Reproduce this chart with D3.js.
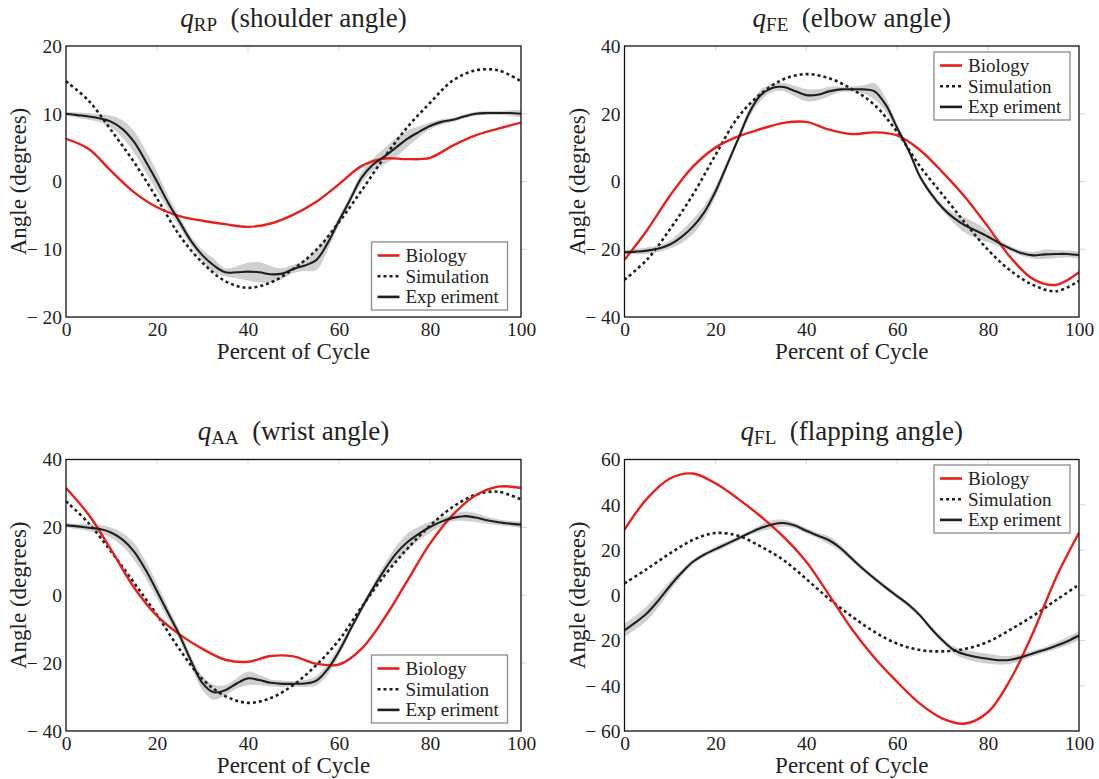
<!DOCTYPE html>
<html>
<head>
<meta charset="utf-8">
<script src="https://cdn.jsdelivr.net/npm/d3@7"></script>
<style>
  body { margin: 0; background: #fff; }
  svg { display: block; }
</style>
</head>
<body>
<svg id="chart" width="1099" height="779"></svg>
<script>
// Sample positions (percent of gait cycle)
const pctCoarse = [0,5,10,15,20,25,30,35,40,45,50,55,60,65,70,75,80,85,90,95,100];
const pctFine = [0,2.5,5,7.5,10,12.5,15,17.5,20,22.5,25,27.5,30,32.5,35,37.5,40,42.5,45,47.5,
                 50,52.5,55,57.5,60,62.5,65,67.5,70,72.5,75,77.5,80,82.5,85,87.5,90,92.5,95,97.5,100];

// Shoulder angle q_RP
const shoulderBiology = [6.3,4.8,1.5,-1.6,-3.8,-5.1,-5.8,-6.3,-6.7,-6.2,-4.9,-3.0,-0.4,2.3,3.4,3.3,3.5,5.3,6.8,7.8,8.7];
const shoulderSimulation = [14.8,11.9,7.5,2.8,-2.5,-8.0,-12.0,-14.7,-15.7,-14.9,-12.9,-10.1,-6.0,-1.3,3.6,8.0,11.6,14.9,16.4,16.4,14.8];
const shoulderExperiment = [10.0,9.8,9.6,9.3,8.8,7.7,5.8,3.0,0.0,-3.2,-6.0,-8.8,-10.9,-12.4,-13.4,-13.4,-13.3,-13.4,-13.7,-13.6,
                            -12.9,-12.4,-11.6,-9.1,-5.8,-2.6,0.6,2.5,3.7,5.0,6.3,7.3,8.2,8.8,9.1,9.6,10.0,10.1,10.1,10.1,10.0];
const shoulderSpread = [0.3,0.4,0.5,0.6,0.9,1.3,1.6,1.6,1.4,1.0,0.8,0.7,0.8,1.0,0.6,0.9,1.3,1.5,1.2,0.8,
                        0.6,0.8,1.5,1.0,0.6,0.6,0.8,0.9,1.2,1.4,1.2,0.8,0.5,0.4,0.3,0.3,0.3,0.3,0.3,0.4,0.6];

// Elbow angle q_FE
const elbowBiology = [-23.1,-14.3,-4.2,4.3,10.0,13.3,15.5,17.3,17.6,15.3,14.0,14.5,13.6,9.3,2.7,-4.7,-13.4,-22.5,-28.9,-30.5,-26.8];
const elbowSimulation = [-29.0,-23.0,-14.1,-4.0,7.8,19.0,25.9,30.2,31.7,30.5,27.3,22.6,14.6,4.5,-3.9,-12.3,-20.2,-26.4,-30.6,-32.4,-29.3];
const elbowExperiment = [-20.9,-20.7,-20.4,-19.8,-18.6,-16.4,-13.4,-9.2,-3.0,4.7,12.5,20.4,25.5,27.6,27.9,26.7,25.5,25.6,26.6,27.2,
                         27.2,27.2,26.6,22.6,15.8,9.2,1.5,-3.7,-7.8,-10.8,-13.0,-14.6,-16.3,-18.2,-19.9,-21.2,-21.8,-21.5,-21.4,-21.4,-21.7];
const elbowSpread = [0.6,0.8,1.0,1.0,1.2,1.8,2.2,2.0,1.6,1.2,1.0,1.4,1.6,1.2,1.2,1.6,1.8,1.6,1.4,0.8,
                     0.8,1.2,2.4,2.0,1.2,0.8,0.8,0.8,0.8,1.5,2.2,2.2,1.6,1.0,0.8,0.8,1.0,1.4,1.2,1.0,1.0];

// Wrist angle q_AA
const wristBiology = [31.6,23.7,13.2,2.2,-6.1,-11.6,-15.8,-19.0,-19.6,-17.9,-18.0,-20.2,-20.4,-15.7,-6.7,4.2,15.2,23.7,29.4,32.0,31.6];
const wristSimulation = [27.7,21.2,12.7,3.6,-5.8,-16.0,-24.7,-29.7,-31.7,-30.3,-26.4,-20.6,-13.2,-3.4,5.8,13.7,20.5,26.0,29.6,30.5,28.2];
const wristExperiment = [20.6,20.3,19.9,19.5,18.4,16.3,12.8,7.5,1.2,-5.4,-11.9,-19.4,-25.9,-28.6,-28.0,-26.0,-24.5,-25.0,-25.8,-26.1,
                         -26.1,-26.0,-25.2,-21.8,-16.5,-10.1,-3.8,2.1,7.5,12.2,15.6,18.1,20.1,21.7,22.8,23.3,22.9,22.1,21.5,21.1,20.8];
const wristSpread = [0.6,0.8,1.0,1.2,1.5,2.0,2.5,2.5,2.2,1.8,1.5,1.5,2.0,2.2,1.5,1.5,2.0,1.5,1.0,1.0,
                     0.8,1.0,1.4,1.6,1.4,1.0,1.0,1.2,1.6,2.2,2.5,2.0,1.6,1.2,1.0,1.4,1.3,1.0,0.8,0.8,1.0];

// Flapping angle q_FL
const flapBiology = [29.0,42.8,51.6,53.8,49.5,42.6,34.8,25.8,14.8,0.2,-14.9,-27.6,-38.3,-47.9,-54.5,-56.7,-51.6,-36.9,-16.0,8.0,27.6];
const flapSimulation = [5.2,11.7,18.5,24.4,27.5,26.3,21.5,15.5,7.2,-1.6,-9.3,-16.2,-21.4,-24.2,-24.8,-23.7,-20.6,-15.1,-9.0,-2.1,4.7];
const flapExperiment = [-15.5,-11.9,-7.8,-2.2,4.1,9.8,14.7,17.9,20.4,22.7,25.1,27.5,29.7,31.3,31.9,30.8,28.5,26.4,24.3,20.9,
                        16.2,11.6,7.4,3.4,-0.4,-4.2,-8.9,-14.8,-20.0,-24.2,-26.2,-27.3,-28.1,-28.7,-28.5,-27.3,-25.6,-24.1,-22.3,-20.3,-17.8];
const flapSpread = [3.0,3.0,3.2,3.0,2.2,1.5,1.2,1.0,1.2,1.2,1.0,1.0,1.5,1.8,1.5,1.2,1.2,1.2,1.8,1.5,
                    1.2,1.0,1.0,1.0,1.0,1.0,1.0,1.0,1.0,1.5,2.0,2.2,2.2,2.0,1.8,1.5,1.2,1.2,1.5,1.8,2.0];

// Axis ticks and labels
const xTicks = [0,20,40,60,80,100];
const shoulderTicks = [-20,-10,0,10,20];
const elbowTicks = [-40,-20,0,20,40];
const wristTicks = [-40,-20,0,20,40];
const flapTicks = [-60,-40,-20,0,20,40,60];
const legendLabels = ["Biology","Simulation","Exp eriment"];
const xLabel = "Percent of Cycle";
const yLabel = "Angle (degrees)";

const FONT = '"Liberation Serif", "Times New Roman", serif';
const INK = "#222";
const colors = { bio: "#e8201c", sim: "#1f1f1f", exp: "#1f1f1f", band: "#d0d0d0" };

const panels = [
  { sym: "q", sub: "RP", name: "(shoulder angle)", bio: shoulderBiology, sim: shoulderSimulation,
    exp: shoulderExperiment, sd: shoulderSpread, ticks: shoulderTicks,
    box: { l: 66, r: 521, t: 46, b: 317 }, titleY: 27, legend: { x: 371.5, y: 242 } },
  { sym: "q", sub: "FE", name: "(elbow angle)", bio: elbowBiology, sim: elbowSimulation,
    exp: elbowExperiment, sd: elbowSpread, ticks: elbowTicks,
    box: { l: 624.5, r: 1079, t: 46, b: 317 }, titleY: 27, legend: { x: 934, y: 52 } },
  { sym: "q", sub: "AA", name: "(wrist angle)", bio: wristBiology, sim: wristSimulation,
    exp: wristExperiment, sd: wristSpread, ticks: wristTicks,
    box: { l: 66, r: 521, t: 459.5, b: 731 }, titleY: 440, legend: { x: 371.5, y: 655 } },
  { sym: "q", sub: "FL", name: "(flapping angle)", bio: flapBiology, sim: flapSimulation,
    exp: flapExperiment, sd: flapSpread, ticks: flapTicks,
    box: { l: 624.5, r: 1079, t: 459.5, b: 731 }, titleY: 440, legend: { x: 934, y: 465 } }
];

const fmt = v => v < 0 ? "\u2212 " + Math.abs(v) : String(v);

const svg = d3.select("#chart").style("font-family", FONT);

function styleText(sel, size) {
  return sel.style("font-family", FONT).attr("font-family", null)
    .style("font-size", size + "px").style("fill", INK);
}

panels.forEach((p, i) => {
  const { l, r, t, b } = p.box;
  const yMin = d3.min(p.ticks), yMax = d3.max(p.ticks);
  const x = d3.scaleLinear().domain([0, 100]).range([l, r]);
  const y = d3.scaleLinear().domain([yMin, yMax]).range([b, t]);
  const g = svg.append("g");

  const clipId = "clip" + i;
  svg.append("clipPath").attr("id", clipId)
    .append("rect").attr("x", l).attr("y", t).attr("width", r - l).attr("height", b - t);

  // faint tick marks along the top and right edges
  g.selectAll(".tt").data(xTicks.slice(1, -1)).join("line")
    .attr("x1", d => x(d)).attr("x2", d => x(d)).attr("y1", t).attr("y2", t + 5)
    .attr("stroke", "#d6d6d6").attr("stroke-width", 1);
  g.selectAll(".rt").data(p.ticks.slice(1, -1)).join("line")
    .attr("x1", r).attr("x2", r + 6).attr("y1", d => y(d)).attr("y2", d => y(d))
    .attr("stroke", "#d6d6d6").attr("stroke-width", 1);

  const plot = g.append("g").attr("clip-path", `url(#${clipId})`);

  const expRows = pctFine.map((v, k) => ({ x: v, y: p.exp[k], s: p.sd[k] }));
  const band = d3.area()
    .x(d => x(d.x)).y0(d => y(d.y - d.s)).y1(d => y(d.y + d.s))
    .curve(d3.curveCatmullRom.alpha(0.5));
  plot.append("path").datum(expRows).attr("d", band).attr("fill", colors.band).attr("stroke", "none");

  const line = d3.line().x(d => x(d[0])).y(d => y(d[1])).curve(d3.curveCatmullRom.alpha(0.5));

  plot.append("path").datum(pctCoarse.map((v, k) => [v, p.sim[k]])).attr("d", line)
    .attr("fill", "none").attr("stroke", colors.sim).attr("stroke-width", 2.6)
    .attr("stroke-dasharray", "3,3");
  plot.append("path").datum(pctCoarse.map((v, k) => [v, p.bio[k]])).attr("d", line)
    .attr("fill", "none").attr("stroke", colors.bio).attr("stroke-width", 2.4);
  plot.append("path").datum(expRows.map(d => [d.x, d.y])).attr("d", line)
    .attr("fill", "none").attr("stroke", colors.exp).attr("stroke-width", 2.1);

  // frame
  g.append("rect").attr("x", l).attr("y", t).attr("width", r - l).attr("height", b - t)
    .attr("fill", "none").attr("stroke", "#111").attr("stroke-width", 1.3);

  // tick labels (no tick marks on the left/bottom)
  const xAxis = d3.axisBottom(x).tickValues(xTicks).tickSize(0).tickPadding(0).tickFormat(d => fmt(d));
  const xa = g.append("g").attr("transform", `translate(0,${b})`).call(xAxis).attr("font-family", null);
  xa.select(".domain").remove();
  styleText(xa.selectAll("text").attr("dy", null).attr("y", 19), 19.5);

  const yAxis = d3.axisLeft(y).tickValues(p.ticks).tickSize(0).tickPadding(4).tickFormat(d => fmt(d));
  const ya = g.append("g").attr("transform", `translate(${l},0)`).call(yAxis).attr("font-family", null);
  ya.select(".domain").remove();
  styleText(ya.selectAll("text"), 19.5);

  // axis titles
  styleText(g.append("text").attr("x", (l + r) / 2).attr("y", b + 42).attr("text-anchor", "middle"), 23)
    .text(xLabel);
  styleText(g.append("text").attr("transform", `translate(${l - 40},${(t + b) / 2}) rotate(-90)`)
    .attr("text-anchor", "middle"), 23).text(yLabel);

  // panel title
  const title = styleText(g.append("text").attr("x", (l + r) / 2).attr("y", p.titleY)
    .attr("text-anchor", "middle"), 27);
  title.append("tspan").style("font-style", "italic").text(p.sym);
  title.append("tspan").style("font-size", "19px").attr("dy", 4).text(p.sub);
  title.append("tspan").attr("dy", -4).text("\u2002" + p.name);

  // legend
  const lg = g.append("g").attr("transform", `translate(${p.legend.x},${p.legend.y})`);
  lg.append("rect").attr("width", 136).attr("height", 68)
    .attr("fill", "#fff").attr("stroke", "#8a8a8a").attr("stroke-width", 1.3);
  const items = [
    { c: colors.bio, dash: null },
    { c: colors.sim, dash: "3,3" },
    { c: colors.exp, dash: null }
  ];
  items.forEach((it, k) => {
    const cy = 13.5 + k * 20.7;
    lg.append("line").attr("x1", 6).attr("x2", 28).attr("y1", cy).attr("y2", cy)
      .attr("stroke", it.c).attr("stroke-width", 2.6).attr("stroke-dasharray", it.dash);
    styleText(lg.append("text").attr("x", 34).attr("y", cy + 6.3), 19).text(legendLabels[k]);
  });
});
</script>
</body>
</html>
